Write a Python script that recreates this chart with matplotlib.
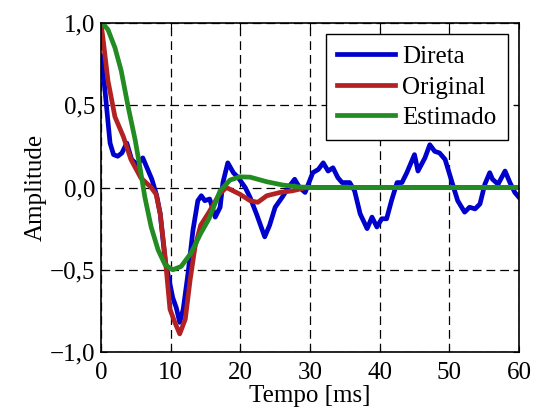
import numpy as np
import matplotlib
matplotlib.use("Agg")
import matplotlib.pyplot as plt
from matplotlib.ticker import FuncFormatter

# Direta (measured response)
t_direta = [0, 0.5, 1.0, 1.3, 1.8, 2.4, 3.0, 3.7, 4.4, 5.2, 6.0, 6.6, 7.3, 8.0, 8.5, 9.2,
            10.3, 10.8, 11.3, 11.8, 12.5, 13.2, 13.9, 14.4, 14.9, 15.6, 16.4, 17.1, 17.5,
            18.2, 19.0, 19.7, 20.7, 21.4, 22.4, 23.5, 24.2, 25.0, 26.0, 26.9, 27.8, 28.5,
            29.3, 30.4, 31.2, 31.9, 32.6, 33.3, 34.0, 34.6, 35.7, 36.4, 37.2, 38.2, 38.9,
            39.6, 40.3, 41.0, 41.7, 42.5, 43.2, 43.9, 44.6, 45.0, 45.5, 46.5, 47.2, 47.9,
            48.6, 49.4, 50.4, 51.2, 52.2, 52.9, 53.7, 54.4, 55.1, 55.8, 56.2, 57.0, 58.0,
            58.7, 59.4, 60.0]
a_direta = [0.80, 0.62, 0.40, 0.27, 0.20, 0.19, 0.21, 0.27, 0.17, 0.14, 0.18, 0.12, 0.05, -0.05, -0.16, -0.44,
            -0.67, -0.73, -0.82, -0.74, -0.52, -0.26, -0.08, -0.05, -0.08, -0.07, -0.18, -0.12, 0.03,
            0.15, 0.09, 0.06, 0.0, -0.06, -0.17, -0.30, -0.23, -0.12, -0.06, 0.0, 0.05, 0.0,
            -0.03, 0.09, 0.11, 0.15, 0.10, 0.12, 0.06, 0.03, 0.03, -0.02, -0.16, -0.25, -0.18,
            -0.24, -0.19, -0.19, -0.08, 0.03, 0.03, 0.09, 0.16, 0.20, 0.10, 0.18, 0.26, 0.22,
            0.21, 0.17, 0.03, -0.08, -0.15, -0.12, -0.13, -0.10, 0.02, 0.09, 0.05, 0.02, 0.10,
            0.03, -0.03, -0.06]

# Original
t_orig = [0, 0.3, 1.0, 2.0, 3.2, 4.3, 5.7, 7.2, 7.9, 8.5, 9.2, 9.9, 10.6, 11.3, 12.1, 12.8,
          13.5, 14.3, 15.5, 17.0, 18.0, 19.9, 21.4, 22.5, 23.8, 25.7, 27.5, 29.5, 60.0]
a_orig = [1.0, 0.90, 0.65, 0.43, 0.31, 0.17, 0.06, 0.0, -0.04, -0.16, -0.42, -0.74, -0.82, -0.89, -0.80, -0.56,
          -0.36, -0.23, -0.15, -0.04, 0.0, -0.04, -0.08, -0.09, -0.05, -0.03, -0.02, 0.0, 0.0]

# Estimado
t_est = [0, 0.4, 1.0, 2.0, 2.9, 3.9, 4.9, 5.6, 6.3, 7.2, 8.2, 9.2, 10.3, 11.5, 12.9, 14.3,
         15.5, 17.1, 18.5, 19.9, 21.4, 23.8, 26.1, 28.5, 31.0, 60.0]
a_est = [1.0, 0.99, 0.96, 0.85, 0.71, 0.49, 0.29, 0.12, -0.06, -0.24, -0.38, -0.47, -0.50, -0.48, -0.40, -0.28,
         -0.19, -0.02, 0.045, 0.065, 0.063, 0.035, 0.015, 0.003, 0.0, 0.0]

plt.rcParams['font.family'] = ['Liberation Serif', 'DejaVu Serif']
plt.rcParams['font.size'] = 18

fig = plt.figure(figsize=(5.33, 4.17), dpi=100)
ax = fig.add_axes([0.1895, 0.1559, 0.7842, 0.7889])

ax.plot(t_direta, a_direta, color='#0000CC', lw=3.4, label='Direta', solid_joinstyle='round')
ax.plot(t_orig, a_orig, color='#B22222', lw=3.4, label='Original', solid_joinstyle='round')
ax.plot(t_est, a_est, color='#228B22', lw=3.4, label='Estimado', solid_joinstyle='round')

ax.set_xlim(0, 60)
ax.set_ylim(-1, 1)
ax.set_xticks(np.arange(0, 61, 10))
ax.set_yticks([-1, -0.5, 0, 0.5, 1])
ax.yaxis.set_major_formatter(FuncFormatter(lambda v, p: ('%.1f' % v).replace('.', ',').replace('-', '\u2212')))
ax.grid(True, color='black', linestyle=(0, (7, 4)), lw=0.9)
ax.tick_params(direction='in', top=True, right=True, length=4, width=0.8)
ax.tick_params(axis='x', pad=7)
ax.tick_params(axis='y', pad=4)
for s in ax.spines.values():
    s.set_linewidth(1.2)

ax.set_xlabel('Tempo [ms]', labelpad=1)
ax.set_ylabel('Amplitude', labelpad=2)

leg = ax.legend(loc='upper right', fancybox=False, edgecolor='black', framealpha=1,
                handlelength=2.3, handletextpad=0.3, borderaxespad=0.45, labelspacing=0.32,
                borderpad=0.45, fontsize=18)
leg.get_frame().set_linewidth(1.0)

fig.savefig('out.png', dpi=100)
